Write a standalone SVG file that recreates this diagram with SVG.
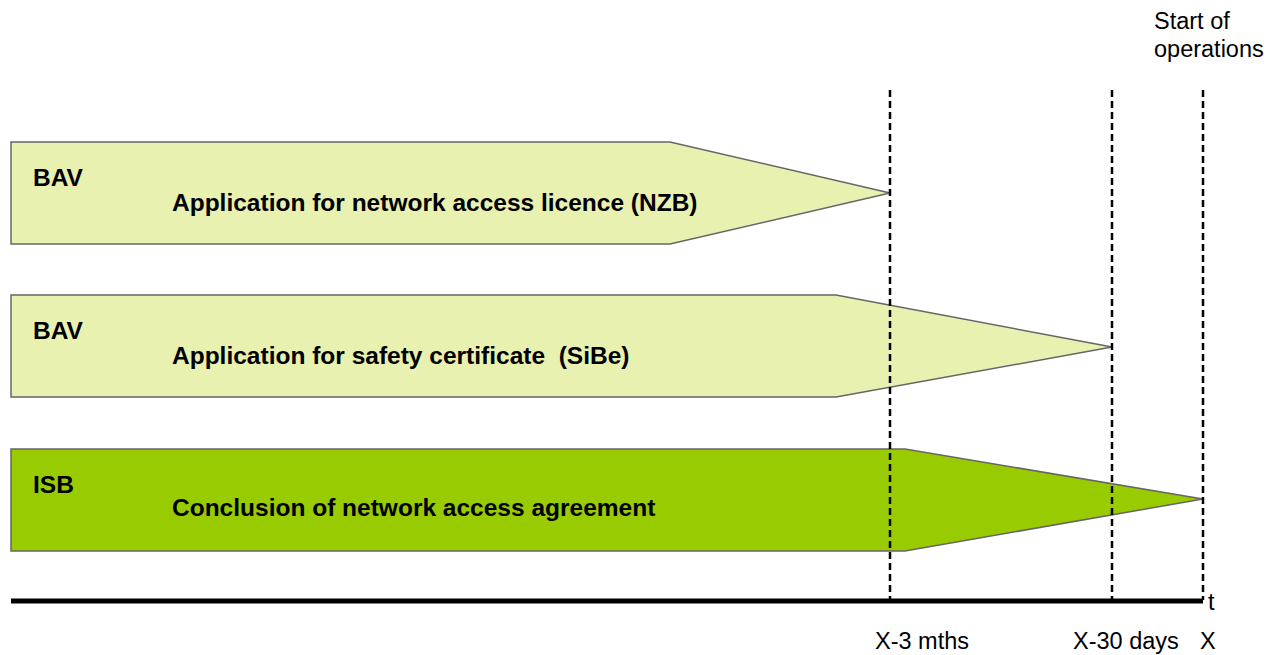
<svg xmlns="http://www.w3.org/2000/svg" width="1283" height="655" viewBox="0 0 1283 655">
<style>
.lbl{font-family:"Liberation Sans",Arial,sans-serif;font-weight:bold;font-size:24.5px;fill:#000;white-space:pre}
.ax{font-family:"Liberation Sans",Arial,sans-serif;font-size:23.5px;fill:#000}
.light{fill:#E8F1B0;stroke:#666;stroke-width:1.5}
.dark{fill:#99CC00;stroke:#666;stroke-width:1.5}
.dash{stroke:#000;stroke-width:2.5;stroke-dasharray:7 4;fill:none}
</style>
<rect width="1283" height="655" fill="#fff"/>
<g id="node-nzb">
<polygon class="light" points="11,142 670,142 890,193 670,244 11,244"/>
<text class="lbl" x="33" y="186">BAV</text>
<text class="lbl" x="172" y="211">Application for network access licence (NZB)</text>
</g>
<g id="node-sibe">
<polygon class="light" points="11,295 836,295 1112,347 836,397 11,397"/>
<text class="lbl" x="33" y="339">BAV</text>
<text class="lbl" x="172" y="364" xml:space="preserve">Application for safety certificate  (SiBe)</text>
</g>
<g id="node-agreement">
<polygon class="dark" points="11,449 905,449 1203,499 905,551 11,551"/>
<text class="lbl" x="33" y="493">ISB</text>
<text class="lbl" x="172" y="516">Conclusion of network access agreement</text>
</g>
<g id="connectors">
<line class="dash" x1="890" y1="90" x2="890" y2="600"/>
<line class="dash" x1="1112" y1="90" x2="1112" y2="600"/>
<line class="dash" x1="1203" y1="90" x2="1203" y2="600"/>
<line x1="11" y1="601" x2="1203" y2="601" stroke="#000" stroke-width="5"/>
</g>
<g id="axis-labels">
<text class="ax" x="1208" y="610">t</text>
<text class="ax" x="875" y="649">X-3 mths</text>
<text class="ax" x="1073" y="649">X-30 days</text>
<text class="ax" x="1200" y="649">X</text>
<text class="ax" x="1154" y="29">Start of</text>
<text class="ax" x="1154" y="57">operations</text>
</g>
</svg>
